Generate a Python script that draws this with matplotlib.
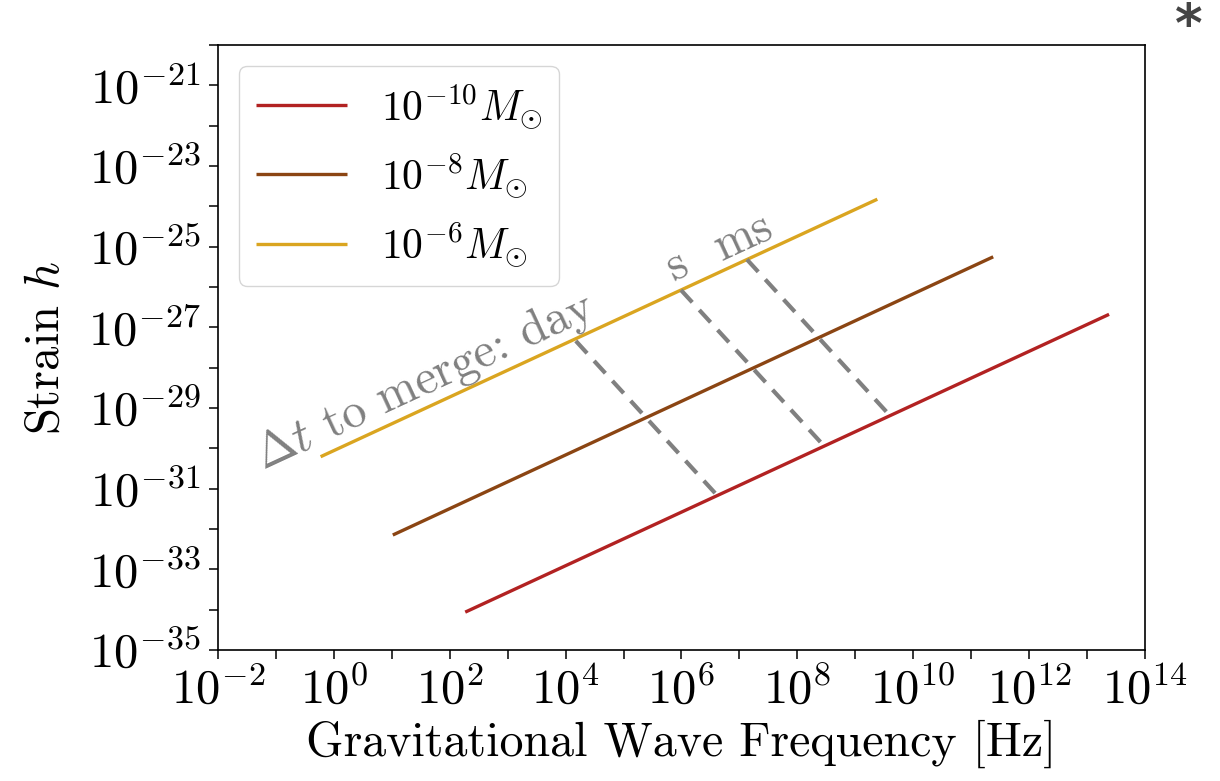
import numpy as np
import matplotlib
matplotlib.use('Agg')
import matplotlib.pyplot as plt

plt.rcParams['font.family'] = 'serif'
plt.rcParams['font.serif'] = ['cmr10']
plt.rcParams['mathtext.fontset'] = 'cm'
plt.rcParams['axes.unicode_minus'] = False

# masses (legend labels) and line end points
mass_labels = [r'$10^{-10}M_{\odot}$', r'$10^{-8}M_{\odot}$', r'$10^{-6}M_{\odot}$']
line_colors = ['#B22222', '#8B4513', '#DAA520']
freq_start = [185, 10.4, 0.59]
freq_end = [2.4e13, 2.4e11, 2.4e9]
strain_start = [8.7e-35, 7.1e-33, 6.2e-31]
strain_end = [2.1e-27, 5.6e-26, 1.5e-24]

# time to merge contours (top point on 1e-6 line, bottom point on 1e-10 line)
merge_labels = ['day', 's', 'ms']
merge_freq_top = [1.5e4, 9.8e5, 1.35e7]
merge_strain_top = [4.6e-28, 8.4e-27, 4.8e-26]
merge_freq_bot = [4.1e6, 2.9e8, 3.96e9]
merge_strain_bot = [6.9e-32, 1.14e-30, 6.5e-30]

x_exps = list(range(-2, 15))
y_exps = list(range(-35, -19))

fig = plt.figure(figsize=(12.2, 7.81), dpi=100)
ax = fig.add_axes([0.1787, 0.1677, 0.7598, 0.7747])

for i in range(len(mass_labels)):
    ax.plot([freq_start[i], freq_end[i]], [strain_start[i], strain_end[i]],
            color=line_colors[i], lw=2.4, label=mass_labels[i], solid_capstyle='butt')

for i in range(len(merge_labels)):
    ax.plot([merge_freq_top[i], merge_freq_bot[i]], [merge_strain_top[i], merge_strain_bot[i]],
            color='gray', lw=3, ls=(0, (4, 2.5)))

ax.set_xscale('log')
ax.set_yscale('log')
ax.set_xlim(1e-2, 1e14)
ax.set_ylim(1e-35, 1e-20)

ax.set_xticks([10.0 ** e for e in x_exps])
ax.set_xticklabels([r'$10^{%d}$' % e if e % 2 == 0 else '' for e in x_exps])
ax.set_yticks([10.0 ** e for e in y_exps])
ax.set_yticklabels([r'$10^{%d}$' % e if e % 2 != 0 else '' for e in y_exps])
ax.minorticks_off()
ax.tick_params(labelsize=35, length=6.5, width=1.1, pad=6)
for s in ax.spines.values():
    s.set_linewidth(1.2)

ax.set_xlabel('Gravitational Wave Frequency [Hz]', fontsize=34.5, labelpad=4)
ax.set_ylabel(r'Strain $h$', fontsize=35, labelpad=14)

# rotation of the lines on screen
p = ax.transData.transform([(freq_start[2], strain_start[2]), (freq_end[2], strain_end[2])])
angle = np.degrees(np.arctan2(p[1, 1] - p[0, 1], p[1, 0] - p[0, 0]))

ax.annotate(r'$\Delta t$ to merge: day', xy=(merge_freq_top[0], merge_strain_top[0]),
            xytext=(15.5, 18.5), textcoords='offset points', ha='right', va='baseline',
            rotation=angle, rotation_mode='anchor', fontsize=35, color='gray')
ax.annotate('s', xy=(merge_freq_top[1], merge_strain_top[1]), xytext=(-3, 18),
            textcoords='offset points', ha='center', va='center',
            rotation=angle, rotation_mode='anchor', fontsize=35, color='gray')
ax.annotate('ms', xy=(merge_freq_top[2], merge_strain_top[2]), xytext=(-3, 16),
            textcoords='offset points', ha='center', va='center',
            rotation=angle, rotation_mode='anchor', fontsize=35, color='gray')

ax.legend(loc='upper left', fontsize=30, handlelength=2.2)

fig.text(0.974, 0.965, '*', fontsize=38, fontweight='bold', color='#444444',
         family='DejaVu Sans', ha='center', va='center')

fig.savefig('out.png', dpi=100)
